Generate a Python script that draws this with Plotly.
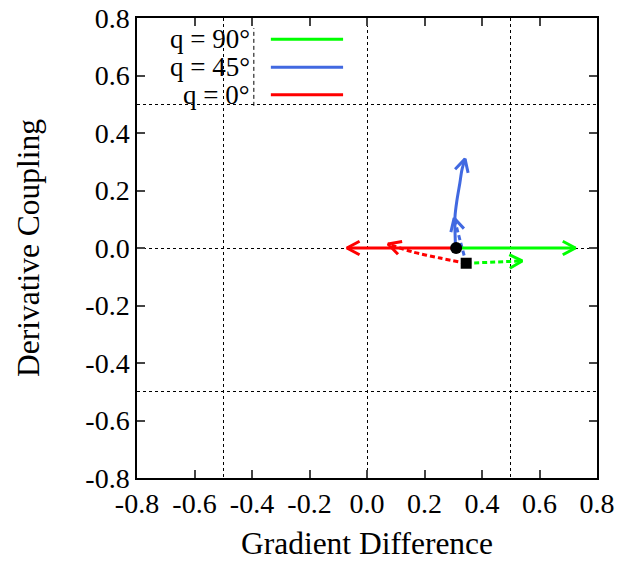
import numpy as np
import plotly.graph_objects as go

# ---- data ----
start_circle_x = [0.31]
start_circle_y = [0.0]
start_square_x = [0.345]
start_square_y = [-0.053]

# solid paths (from circle)
green_solid_x = [0.31, 0.725]
green_solid_y = [0.0, 0.0]
blue_solid_x = [0.308, 0.306, 0.313, 0.323, 0.330, 0.341]
blue_solid_y = [0.0, 0.108, 0.167, 0.226, 0.271, 0.310]
red_solid_x = [0.31, -0.07]
red_solid_y = [0.0, 0.0]

# dashed paths (from square)
green_dash_x = [0.345, 0.54]
green_dash_y = [-0.053, -0.045]
blue_dash_x = [0.345, 0.303]
blue_dash_y = [-0.053, 0.104]
red_dash_x = [0.345, 0.254, 0.160, 0.073]
red_dash_y = [-0.053, -0.035, -0.014, 0.014]

legend_labels = ["q = 90°", "q = 45°", "q = 0°"]
tick_vals = [-0.8, -0.6, -0.4, -0.2, 0.0, 0.2, 0.4, 0.6, 0.8]
tick_text = ["-0.8", "-0.6", "-0.4", "-0.2", "0.0", "0.2", "0.4", "0.6", "0.8"]

GREEN = "#00ff00"
BLUE = "#4169e1"
RED = "#ff0000"
FONT = "Liberation Serif"

fig = go.Figure()


def head(xs, ys, L=0.05, ang=28):
    x1, y1 = xs[-1], ys[-1]
    x0, y0 = xs[-2], ys[-2]
    d = np.array([x0 - x1, y0 - y1])
    d = d / np.linalg.norm(d) * L
    out_x, out_y = [], []
    for s in (1, -1):
        a = np.radians(ang * s)
        r = np.array([[np.cos(a), -np.sin(a)], [np.sin(a), np.cos(a)]]) @ d
        out_x.append(x1 + r[0])
        out_y.append(y1 + r[1])
    return [out_x[0], x1, out_x[1]], [out_y[0], y1, out_y[1]]


def arrow(xs, ys, color, dash):
    fig.add_trace(go.Scatter(x=xs, y=ys, mode="lines",
                             line=dict(color=color, width=3, dash=dash,
                                       shape="spline", smoothing=0.8),
                             showlegend=False, hoverinfo="skip"))
    hx, hy = head(xs, ys)
    fig.add_trace(go.Scatter(x=hx, y=hy, mode="lines",
                             line=dict(color=color, width=3),
                             showlegend=False, hoverinfo="skip"))


DASH = "5px,3px"
arrow(red_dash_x, red_dash_y, RED, DASH)
arrow(green_dash_x, green_dash_y, GREEN, DASH)
arrow(blue_dash_x, blue_dash_y, BLUE, DASH)
arrow(red_solid_x, red_solid_y, RED, "solid")
arrow(green_solid_x, green_solid_y, GREEN, "solid")
arrow(blue_solid_x, blue_solid_y, BLUE, "solid")

fig.add_trace(go.Scatter(x=start_circle_x, y=start_circle_y, mode="markers",
                         marker=dict(symbol="circle", size=12, color="black"),
                         showlegend=False, hoverinfo="skip"))
fig.add_trace(go.Scatter(x=start_square_x, y=start_square_y, mode="markers",
                         marker=dict(symbol="square", size=11, color="black"),
                         showlegend=False, hoverinfo="skip"))

# ---- manual legend (text left, key line right) ----
leg_colors = [GREEN, BLUE, RED]
leg_y = [0.954, 0.893, 0.833]
for lab, col, yy in zip(legend_labels, leg_colors, leg_y):
    fig.add_annotation(x=0.25, y=yy, xref="paper", yref="paper", text=lab,
                       showarrow=False, xanchor="right", yanchor="middle",
                       font=dict(family=FONT, size=27, color="black"))
    fig.add_shape(type="line", xref="paper", yref="paper",
                  x0=0.291, x1=0.448, y0=yy, y1=yy,
                  line=dict(color=col, width=3))
fig.add_shape(type="line", xref="paper", yref="paper", x0=0.254, x1=0.254,
              y0=0.809, y1=0.978, line=dict(color="black", width=1, dash="4px,3px"))

axis_common = dict(
    range=[-0.8, 0.8], tickvals=tick_vals, ticktext=tick_text,
    ticks="inside", ticklen=8, tickwidth=1.5, tickcolor="#444",
    showline=True, linecolor="black", linewidth=1.5, mirror="ticks",
    showgrid=False, zeroline=False, ticklabeloverflow="allow",
    tickfont=dict(family=FONT, size=28, color="black"),
    minor=dict(dtick=0.5, tick0=0, showgrid=True, gridcolor="black",
               griddash="dot", gridwidth=1, ticks=""),
)

fig.update_xaxes(**axis_common,
                 title=dict(text="Gradient Difference",
                            font=dict(family=FONT, size=31.5, color="black"),
                            standoff=18))
fig.update_yaxes(**axis_common,
                 title=dict(text="Derivative Coupling",
                            font=dict(family=FONT, size=31.5, color="black"),
                            standoff=36))

fig.update_layout(
    width=617, height=561,
    margin=dict(l=137, r=20, t=18, b=83, autoexpand=False),
    plot_bgcolor="white", paper_bgcolor="white",
    showlegend=False,
)

fig.write_html(
    "out.html",
    config={"displayModeBar": False},
    post_script="document.body.style.margin='0';document.body.style.overflow='hidden';",
)
